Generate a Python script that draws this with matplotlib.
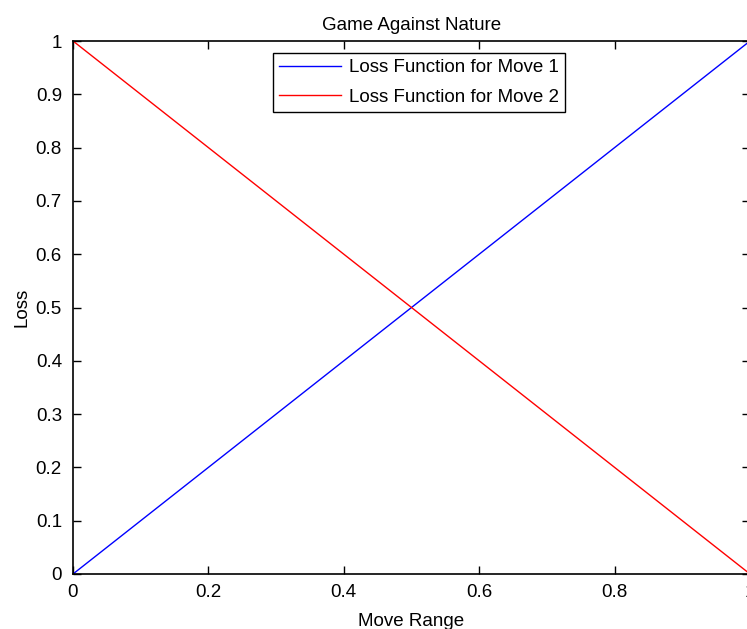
import matplotlib
matplotlib.use("Agg")
import matplotlib.pyplot as plt

x_vals = [0.0, 1.0]
loss_move1 = [0.0, 1.0]
loss_move2 = [1.0, 0.0]
labels = ["Loss Function for Move 1", "Loss Function for Move 2"]
xticks = [0, 0.2, 0.4, 0.6, 0.8, 1]
yticks = [0, 0.1, 0.2, 0.3, 0.4, 0.5, 0.6, 0.7, 0.8, 0.9, 1]

plt.rcParams['font.family'] = ['Liberation Sans', 'DejaVu Sans']
fs = 13.5

fig = plt.figure(figsize=(7.47, 6.29), dpi=100)
ax = fig.add_axes([73/747, 55/629, (750-73)/747, (574-41)/629])
ax.plot(x_vals, loss_move1, color='#0000ff', lw=1.0, label=labels[0])
ax.plot(x_vals, loss_move2, color='#ff0000', lw=1.0, label=labels[1])
ax.set_xlim(0, 1)
ax.set_ylim(0, 1)
ax.set_xticks(xticks)
ax.set_xticklabels(['0', '0.2', '0.4', '0.6', '0.8', '1'])
ax.set_yticks(yticks)
ax.set_yticklabels(['0', '0.1', '0.2', '0.3', '0.4', '0.5', '0.6', '0.7', '0.8', '0.9', '1'])
ax.tick_params(direction='in', top=True, right=True, length=6, width=1, labelsize=fs)
ax.tick_params(axis='x', pad=7)
ax.tick_params(axis='y', pad=8)
for s in ax.spines.values():
    s.set_linewidth(1.2)
ax.set_title("Game Against Nature", fontsize=fs, pad=8)
ax.set_xlabel("Move Range", fontsize=fs, labelpad=9)
ax.set_ylabel("Loss", fontsize=fs, labelpad=4)
leg = ax.legend(loc='upper center', bbox_to_anchor=(0.511, 0.9775), borderaxespad=0,
                fontsize=fs, fancybox=False, edgecolor='black', framealpha=1,
                handlelength=3.3, handletextpad=0.4, borderpad=0.34, labelspacing=0.66)
leg.get_frame().set_linewidth(1.0)
fig.savefig("out.png", dpi=100)
